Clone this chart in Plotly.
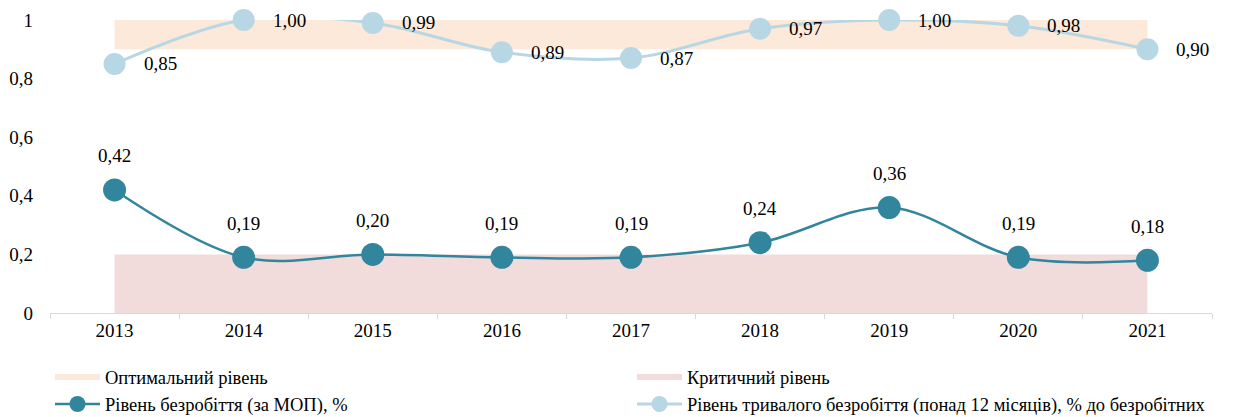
import plotly.graph_objects as go

years = ["2013", "2014", "2015", "2016", "2017", "2018", "2019", "2020", "2021"]
unemployment = [0.42, 0.19, 0.20, 0.19, 0.19, 0.24, 0.36, 0.19, 0.18]
long_term = [0.85, 1.00, 0.99, 0.89, 0.87, 0.97, 1.00, 0.98, 0.90]
optimal_low, optimal_high = 0.9, 1.0
critical_low, critical_high = 0.0, 0.2

names = [
    "Оптимальний рівень",
    "Критичний рівень",
    "Рівень безробіття (за МОП), %",
    "Рівень тривалого безробіття (понад 12 місяців), % до безробітних",
]

FONT = "Times New Roman, Liberation Serif, DejaVu Serif, serif"
FS = 19
C_OPT = "#FDE9D9"
C_CRIT = "#F2DCDB"
C_DARK = "#31859C"
C_LIGHT = "#B7D7E4"

fig = go.Figure()

fig.add_trace(go.Scatter(
    x=years + years[::-1],
    y=[optimal_high] * len(years) + [optimal_low] * len(years),
    fill="toself", fillcolor=C_OPT, mode="none", name=names[0],
    hoverinfo="skip",
))
fig.add_trace(go.Scatter(
    x=years + years[::-1],
    y=[critical_high] * len(years) + [critical_low] * len(years),
    fill="toself", fillcolor=C_CRIT, mode="none", name=names[1],
    hoverinfo="skip",
))
fig.add_trace(go.Scatter(
    x=years, y=unemployment, mode="lines+markers", name=names[2],
    line=dict(color=C_DARK, width=2.5, shape="spline", smoothing=1),
    marker=dict(color=C_DARK, size=23), cliponaxis=False,
))
fig.add_trace(go.Scatter(
    x=years, y=long_term, mode="lines+markers", name=names[3],
    line=dict(color=C_LIGHT, width=3, shape="spline", smoothing=1),
    marker=dict(color=C_LIGHT, size=22), cliponaxis=False,
))

annotations = []
for i, y in enumerate(unemployment):
    annotations.append(dict(x=i, y=y, text=f"{y:.2f}".replace(".", ","),
                            showarrow=False, yshift=34, xanchor="center",
                            yanchor="middle", font=dict(family=FONT, size=FS, color="#000")))
for i, y in enumerate(long_term):
    annotations.append(dict(x=i, y=y, text=f"{y:.2f}".replace(".", ","),
                            showarrow=False, xshift=27, xanchor="left",
                            yanchor="middle", font=dict(family=FONT, size=FS, color="#000")))

fig.update_layout(
    width=1228, height=409,
    margin=dict(l=42, r=24, t=12, b=104, autoexpand=False),
    paper_bgcolor="white", plot_bgcolor="white",
    separators=", ",
    font=dict(family=FONT, size=FS, color="#000"),
    annotations=annotations,
    showlegend=True,
    legend=dict(
        orientation="h", x=0.0, xanchor="left", y=-0.155, yanchor="top",
        entrywidth=522, entrywidthmode="pixels",
        font=dict(family=FONT, size=18.5, color="#000"),
        itemwidth=45, traceorder="normal", tracegroupgap=0,
    ),
    xaxis=dict(
        type="category", range=[-0.5, len(years) - 0.5], automargin=False,
        showgrid=False, showline=True, linecolor="#D9D9D9",
        linewidth=1, ticks="outside", tickson="boundaries", ticklen=5,
        tickcolor="#D9D9D9", tickfont=dict(family=FONT, size=FS),
        zeroline=False, fixedrange=True,
    ),
    yaxis=dict(
        range=[0, 1], dtick=0.2, tick0=0, showgrid=False, showline=False,
        automargin=False,
        zeroline=False, ticks="", tickfont=dict(family=FONT, size=FS),
        ticklabelstandoff=16,
    ),
)

fig.write_html("out.html")
